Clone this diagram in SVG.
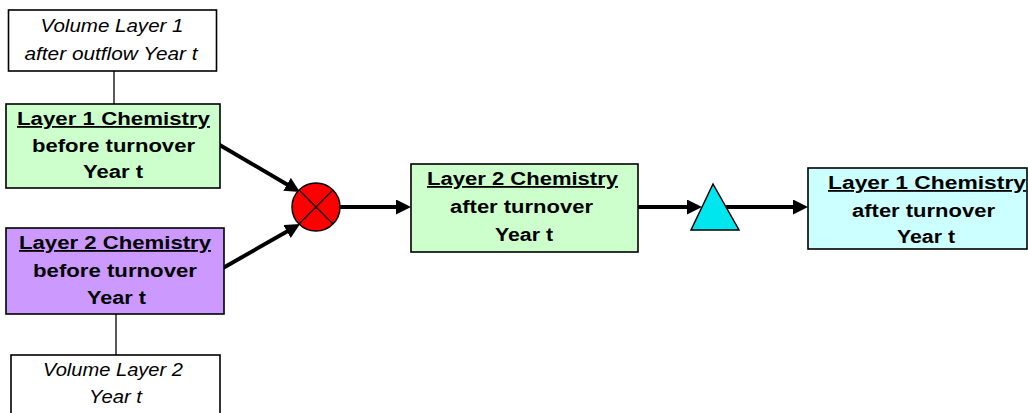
<svg xmlns="http://www.w3.org/2000/svg" width="1028" height="413" viewBox="0 0 1028 413">
<style>
.box{stroke:#000;stroke-width:1.6}
.vol{fill:#fff}
.green{fill:#ccffcc}
.purple{fill:#cc99ff}
.blue{fill:#ccffff}
.b{font-family:"Liberation Sans",Arial,sans-serif;font-weight:bold;font-size:18px;fill:#000;text-anchor:middle}
.i{font-family:"Liberation Sans",Arial,sans-serif;font-style:italic;font-size:17.5px;fill:#000;text-anchor:middle}
.u{text-decoration:underline}
.thin{stroke:#000;stroke-width:1.3;fill:none}
.arr{stroke:#000;stroke-width:4;fill:none;marker-end:url(#ah)}
</style>
<defs>
<marker id="ah" markerUnits="userSpaceOnUse" markerWidth="17" markerHeight="16" refX="4" refY="7.5" orient="auto">
<path d="M0,0 L15,7.5 L0,15 z" fill="#000"/>
</marker>
</defs>
<rect width="1028" height="413" fill="#fff"/>
<g id="connectors">
<line class="thin" x1="114" y1="71" x2="114" y2="104"/>
<line class="thin" x1="116" y1="314" x2="116" y2="355"/>
<line class="arr" x1="218" y1="144" x2="290.5" y2="186.4"/>
<line class="arr" x1="223" y1="268" x2="290.5" y2="229.5"/>
<line class="arr" x1="340" y1="207" x2="400" y2="207"/>
<line class="arr" x1="638" y1="207" x2="691" y2="207"/>
<line class="arr" x1="722" y1="207" x2="797" y2="207"/>
</g>
<g id="vol1">
<rect class="box vol" x="8.5" y="10" width="208" height="61"/>
<text class="i" x="112" y="32" textLength="143" lengthAdjust="spacingAndGlyphs">Volume Layer 1</text>
<text class="i" x="111" y="60" textLength="173" lengthAdjust="spacingAndGlyphs">after outflow Year t</text>
</g>
<g id="l1before">
<rect class="box green" x="6" y="104" width="214" height="84"/>
<text class="b u" x="113.5" y="125" textLength="193" lengthAdjust="spacingAndGlyphs">Layer 1 Chemistry</text>
<text class="b" x="113.5" y="152" textLength="163" lengthAdjust="spacingAndGlyphs">before turnover</text>
<text class="b" x="113" y="178" textLength="60" lengthAdjust="spacingAndGlyphs">Year t</text>
</g>
<g id="l2before">
<rect class="box purple" x="6" y="228" width="218" height="86"/>
<text class="b u" x="115" y="249" textLength="192" lengthAdjust="spacingAndGlyphs">Layer 2 Chemistry</text>
<text class="b" x="115" y="277" textLength="164" lengthAdjust="spacingAndGlyphs">before turnover</text>
<text class="b" x="116.5" y="304" textLength="59" lengthAdjust="spacingAndGlyphs">Year t</text>
</g>
<g id="vol2">
<rect class="box vol" x="11" y="355" width="209" height="70"/>
<text class="i" x="113" y="376" textLength="140" lengthAdjust="spacingAndGlyphs">Volume Layer 2</text>
<text class="i" x="115.5" y="403" textLength="53" lengthAdjust="spacingAndGlyphs">Year t</text>
</g>
<g id="mix">
<circle cx="316" cy="207" r="24" fill="#ff0000" stroke="#000" stroke-width="1.5"/>
<line class="thin" x1="299" y1="190" x2="333" y2="224"/>
<line class="thin" x1="333" y1="190" x2="299" y2="224"/>
</g>
<g id="l2after">
<rect class="box green" x="411" y="164" width="227" height="88"/>
<text class="b u" x="522.5" y="185" textLength="191" lengthAdjust="spacingAndGlyphs">Layer 2 Chemistry</text>
<text class="b" x="521.5" y="213" textLength="143" lengthAdjust="spacingAndGlyphs">after turnover</text>
<text class="b" x="524" y="241" textLength="58" lengthAdjust="spacingAndGlyphs">Year t</text>
</g>
<g id="tri">
<polygon points="713,184 691,230 739,230" fill="#00e6ef" stroke="#000" stroke-width="1.5"/>
</g>
<g id="l1after">
<rect class="box blue" x="808" y="168" width="219" height="81"/>
<text class="b u" x="927" y="189" textLength="198" lengthAdjust="spacingAndGlyphs">Layer 1 Chemistry</text>
<text class="b" x="923.5" y="217" textLength="143" lengthAdjust="spacingAndGlyphs">after turnover</text>
<text class="b" x="926" y="243" textLength="58" lengthAdjust="spacingAndGlyphs">Year t</text>
</g>
</svg>
